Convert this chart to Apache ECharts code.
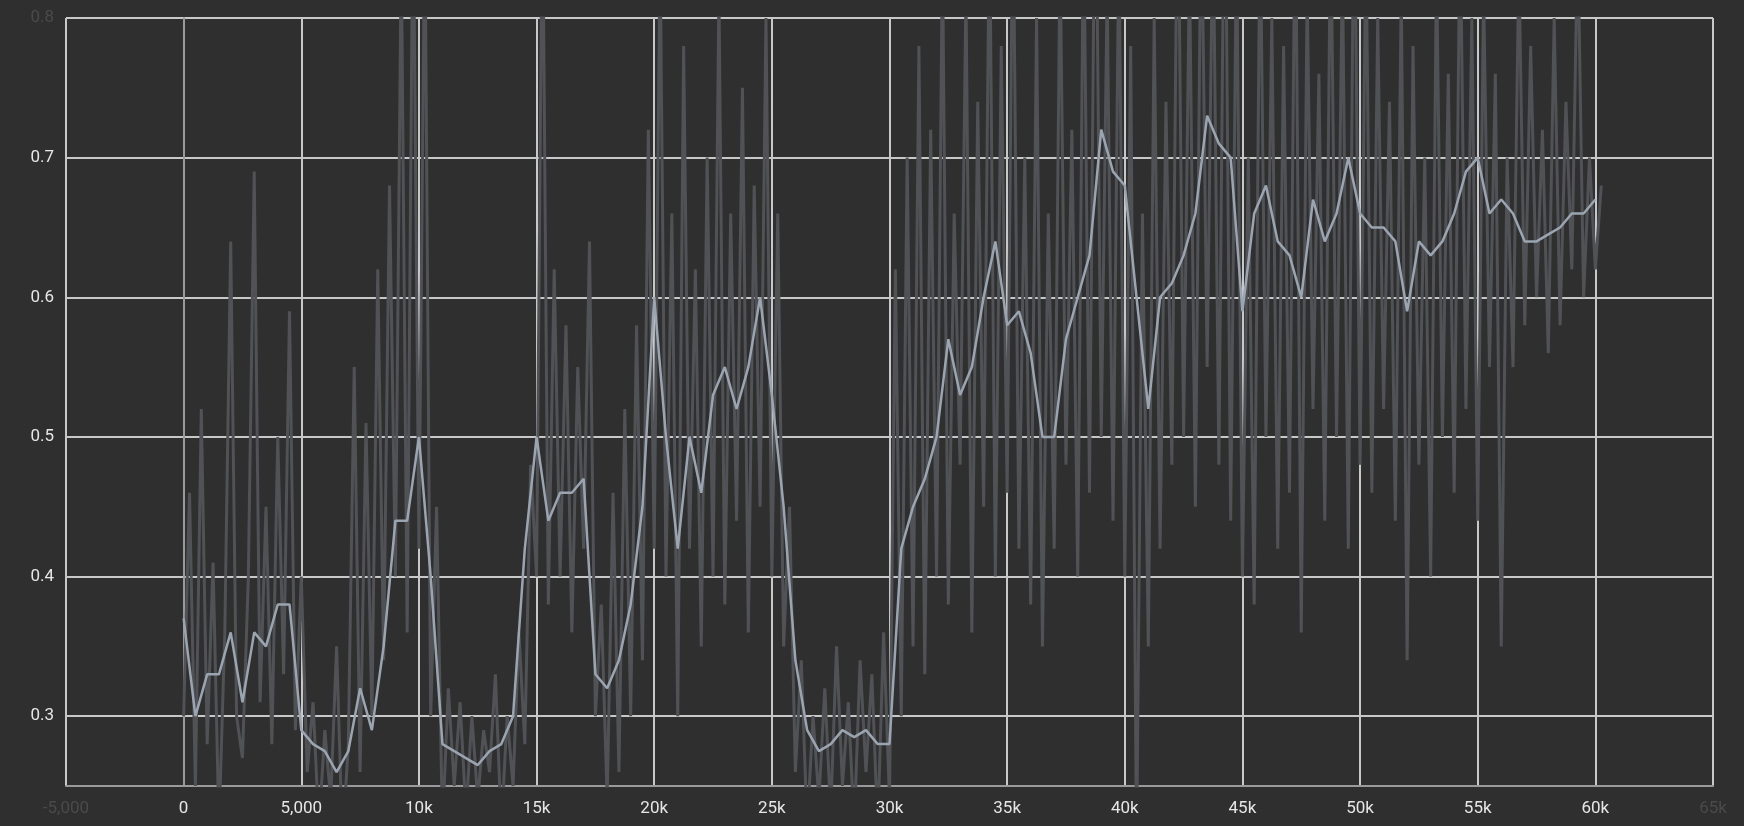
<!DOCTYPE html>
<html>
<head>
<meta charset="utf-8">
<script src="https://cdn.jsdelivr.net/npm/echarts@6/dist/echarts.min.js"></script>
<style>
  html, body { margin: 0; background: #2f2f2f; }
  #chart { width: 1744px; height: 826px; }
</style>
</head>
<body>
<div id="chart"></div>
<script>
var chartDom = document.getElementById('chart');
var myChart = echarts.init(chartDom);

// step spacing of the two runs
var rawStep = 250;
var smoothStep = 500;

var rawValues = [
  0.30,0.46,0.25,0.52,0.28,0.41,0.22,0.36,0.64,0.30,0.27,0.40,0.69,0.31,0.45,0.28,0.50,0.33,0.59,0.29,0.40,
  0.26,0.31,0.22,0.29,0.24,0.35,0.21,0.28,0.55,0.26,0.51,0.30,0.62,0.34,0.68,0.40,0.85,0.36,0.90,0.42,
  0.88,0.30,0.45,0.22,0.32,0.25,0.31,0.23,0.30,0.24,0.29,0.26,0.33,0.22,0.30,0.25,0.36,0.28,0.48,0.40,
  0.90,0.38,0.62,0.40,0.58,0.36,0.55,0.42,0.64,0.30,0.38,0.24,0.46,0.26,0.52,0.30,0.58,0.34,0.72,0.42,
  0.85,0.40,0.66,0.30,0.78,0.42,0.62,0.35,0.70,0.40,0.82,0.38,0.66,0.44,0.75,0.36,0.68,0.45,0.80,0.40,
  0.66,0.35,0.45,0.26,0.34,0.22,0.30,0.24,0.32,0.23,0.35,0.25,0.31,0.22,0.34,0.26,0.33,0.22,0.36,0.24,
  0.62,0.30,0.70,0.35,0.78,0.33,0.72,0.40,0.85,0.38,0.66,0.48,0.82,0.36,0.74,0.45,0.88,0.40,0.78,0.46,
  0.90,0.42,0.70,0.38,0.80,0.35,0.66,0.42,0.85,0.48,0.72,0.40,0.88,0.46,0.95,0.50,0.82,0.44,0.86,0.40,
  0.78,0.20,0.66,0.35,0.80,0.42,0.74,0.48,0.92,0.50,0.84,0.45,0.90,0.55,0.88,0.48,0.95,0.44,0.86,0.40,
  0.70,0.38,0.88,0.50,0.80,0.42,0.78,0.46,0.90,0.36,0.82,0.52,0.76,0.44,0.88,0.50,0.84,0.42,0.92,0.48,
  0.86,0.46,0.80,0.52,0.74,0.44,0.82,0.34,0.78,0.48,0.70,0.40,0.84,0.50,0.76,0.46,0.88,0.52,0.80,0.44,
  0.82,0.55,0.76,0.35,0.70,0.55,0.84,0.58,0.78,0.60,0.72,0.56,0.80,0.58,0.74,0.62,0.86,0.60,0.70,0.62,0.68
];

var smoothValues = [
  0.37,0.30,0.33,0.33,0.36,0.31,0.36,0.35,0.38,0.38,
  0.29,0.28,0.275,0.26,0.275,0.32,0.29,0.35,0.44,0.44,
  0.50,0.40,0.28,0.275,0.27,0.265,0.275,0.28,0.30,0.42,
  0.50,0.44,0.46,0.46,0.47,0.33,0.32,0.34,0.38,0.45,
  0.60,0.50,0.42,0.50,0.46,0.53,0.55,0.52,0.55,0.60,
  0.53,0.45,0.34,0.29,0.275,0.28,0.29,0.285,0.29,0.28,
  0.28,0.42,0.45,0.47,0.50,0.57,0.53,0.55,0.60,0.64,
  0.58,0.59,0.56,0.50,0.50,0.57,0.60,0.63,0.72,0.69,
  0.68,0.60,0.52,0.60,0.61,0.63,0.66,0.73,0.71,0.70,
  0.59,0.66,0.68,0.64,0.63,0.60,0.67,0.64,0.66,0.70,
  0.66,0.65,0.65,0.64,0.59,0.64,0.63,0.64,0.66,0.69,
  0.70,0.66,0.67,0.66,0.64,0.64,0.645,0.65,0.66,0.66,
  0.67
];

function toPairs(values, step) {
  return values.map(function (v, i) { return [i * step, v]; });
}

function fmtStep(v) {
  if (v === 0) return '0';
  if (Math.abs(v) < 10000) return v.toLocaleString('en-US');
  return (v / 1000) + 'k';
}

var option = {
  backgroundColor: '#2f2f2f',
  animation: false,
  grid: { left: 66, right: 31, top: 18, bottom: 40 },
  xAxis: {
    type: 'value',
    min: -5000,
    max: 65000,
    interval: 5000,
    axisLine: { show: true, lineStyle: { color: '#9a9a9a', width: 2 } },
    axisTick: { show: false },
    splitLine: { show: true, lineStyle: { color: '#c8c8c8', width: 2 } },
    axisLabel: {
      color: function (v) { return (v < 0 || v > 60000) ? '#4a4a4a' : '#e6e6e6'; },
      fontFamily: 'Roboto',
      fontSize: 17,
      margin: 14,
      formatter: fmtStep
    }
  },
  yAxis: {
    type: 'value',
    min: 0.25,
    max: 0.8,
    splitNumber: 5,
    axisLine: { show: true, lineStyle: { color: '#9a9a9a', width: 2 } },
    axisTick: { show: false },
    splitLine: { show: true, lineStyle: { color: '#c8c8c8', width: 2 } },
    axisLabel: {
      color: function (v) { return v > 0.75 ? '#4a4a4a' : '#e6e6e6'; },
      fontFamily: 'Roboto',
      fontSize: 17,
      margin: 12,
      showMinLabel: false,
      formatter: function (v) { return v.toFixed(1); }
    }
  },
  series: [
    {
      name: 'raw',
      type: 'line',
      data: toPairs(rawValues, rawStep),
      showSymbol: false,
      lineStyle: { color: '#505256', width: 3 },
      z: 1
    },
    {
      name: 'smoothed',
      type: 'line',
      data: toPairs(smoothValues, smoothStep),
      showSymbol: false,
      lineStyle: { color: '#9ba5b1', width: 2.5 },
      z: 2
    }
  ]
};

option && myChart.setOption(option);
</script>
</body>
</html>
